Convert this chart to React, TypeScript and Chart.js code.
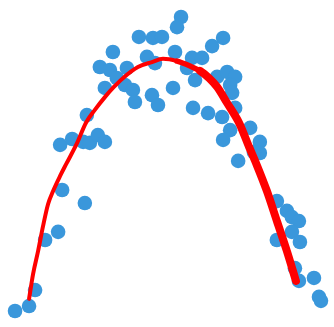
import React, { useEffect, useRef } from "react";
import { Chart, registerables } from "chart.js";

Chart.register(...registerables);

const pointX = [5.42, 5.30, 4.16, 4.58, 4.85, 6.68, 6.35, 3.38, 5.24, 2.99, 3.29, 3.80, 3.50, 3.74, 3.98, 3.14, 4.04, 4.40, 4.64, 4.55, 4.73, 5.18, 5.75, 6.05, 5.60, 5.84, 6.50, 6.80, 7.04, 6.89, 6.95, 5.78, 6.23, 6.65, 7.04, 6.89, 6.68, 7.49, 7.78, 7.78, 7.13, 7.60, 2.60, 1.80, 2.16, 2.49, 2.69, 2.93, 3.14, 1.86, 2.54, 1.74, 1.35, 1.05, 0.87, 0.45, 8.29, 8.59, 8.74, 8.95, 8.74, 8.29, 8.98, 8.83, 8.95, 9.40, 9.55, 9.61];
const pointY = [9.48, 9.17, 8.87, 8.84, 8.87, 8.84, 8.59, 8.41, 8.41, 7.95, 7.86, 7.92, 7.61, 7.40, 7.25, 7.31, 6.88, 8.26, 8.07, 7.09, 6.79, 7.31, 8.23, 8.23, 7.92, 7.55, 7.65, 7.80, 7.65, 7.40, 7.16, 6.70, 6.54, 6.42, 6.70, 6.02, 5.72, 6.09, 5.66, 5.32, 5.08, 5.35, 6.48, 5.57, 5.75, 5.66, 5.63, 5.87, 5.66, 4.19, 3.79, 2.91, 2.66, 1.13, 0.64, 0.49, 3.85, 3.55, 3.36, 3.24, 2.91, 2.66, 2.60, 1.80, 1.41, 1.50, 0.92, 0.80];

const fitX = [0.87, 0.99, 1.14, 1.29, 1.44, 1.59, 1.80, 1.98, 2.31, 2.57, 2.84, 3.14, 3.41, 3.68, 4.13, 4.55, 4.88, 5.30, 5.69, 5.99, 6.26, 6.50, 6.80, 7.16, 7.46, 7.69, 7.99, 8.29, 8.59, 8.86];
const fitY = [0.86, 1.62, 2.32, 3.09, 3.76, 4.16, 4.62, 4.98, 5.63, 6.24, 6.64, 7.03, 7.34, 7.61, 7.95, 8.10, 8.20, 8.13, 7.98, 7.83, 7.61, 7.34, 6.85, 6.24, 5.50, 4.95, 4.16, 3.24, 2.32, 1.41];

export default function App() {
  const ref = useRef<HTMLCanvasElement | null>(null);
  useEffect(() => {
    if (!ref.current) return;
    const chart = new Chart(ref.current, {
      type: "scatter",
      data: {
        datasets: [
          {
            type: "line",
            data: fitX.map((x, i) => ({ x, y: fitY[i] })),
            borderColor: "#ff0000",
            borderWidth: 4,
            pointRadius: 0,
            fill: false,
            cubicInterpolationMode: "monotone",
            borderCapStyle: "round",
            borderJoinStyle: "round",
            order: 0,
            segment: {
              borderWidth: (ctx: any) => {
                const x = ctx.p0.parsed.x;
                if (x < 5.2) return 4;
                if (x < 5.9) return 5.5;
                return 8;
              },
            },
          } as any,
          {
            type: "scatter",
            data: pointX.map((x, i) => ({ x, y: pointY[i] })),
            backgroundColor: "#3a97db",
            borderWidth: 0,
            pointRadius: 7.3,
            order: 1,
          },
        ],
      },
      options: {
        animation: false,
        responsive: true,
        maintainAspectRatio: false,
        layout: { padding: 0, autoPadding: false },
        plugins: { legend: { display: false }, tooltip: { enabled: false } },
        scales: {
          x: { type: "linear", min: 0, max: 10, display: false },
          y: { type: "linear", min: 0, max: 10, display: false },
        },
      },
    });
    return () => chart.destroy();
  }, []);
  return (
    <div style={{ position: "fixed", left: 0, top: 0, width: 334, height: 327, background: "#fff" }}>
      <canvas ref={ref} />
    </div>
  );
}
